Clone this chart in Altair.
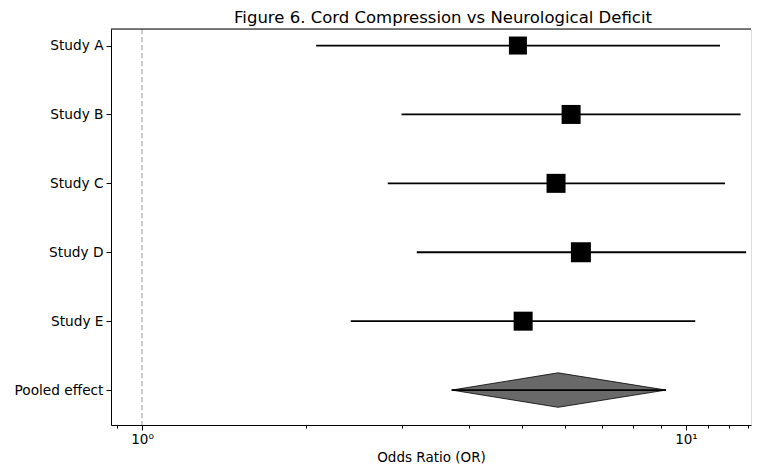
import altair as alt
import pandas as pd

# ---- data ----
studies = ["Study A", "Study B", "Study C", "Study D", "Study E"]
or_vals = [4.91, 6.15, 5.77, 6.41, 5.02]
ci_low = [2.09, 3.00, 2.83, 3.20, 2.42]
ci_high = [11.55, 12.6, 11.8, 12.9, 10.4]
marker_side = [18, 19, 19, 20, 19]

pooled_label = "Pooled effect"
pooled_or = 5.82
pooled_low = 3.71
pooled_high = 9.19

row_labels = [pooled_label] + studies[::-1]   # bottom -> top
minor_ticks = [0.9, 2, 3, 4, 5, 6, 7, 8, 9, 11, 12, 13]
major_ticks = [1, 10]

W, H = 640, 396
x_dom = [0.877, 13.17]
y_dom = [-0.507, 5.24]

ypos = [len(studies) - i for i in range(len(studies))]
df = pd.DataFrame({"study": studies, "or": or_vals, "lo": ci_low, "hi": ci_high,
                   "y": ypos, "sz": [s * s for s in marker_side]})
diamond = pd.DataFrame({"x": [pooled_low, pooled_or, pooled_high],
                        "yt": [0, 0.25, 0], "yb": [0, -0.25, 0]})
pooled = pd.DataFrame({"lo": [pooled_low], "hi": [pooled_high], "y": [0]})
ref = pd.DataFrame({"x": [1]})

label_expr = "[" + ",".join("'%s'" % s for s in row_labels) + "][datum.value]"
major_test = " || ".join("datum.value == %s" % v for v in major_ticks)

xscale = alt.Scale(type="log", domain=x_dom, nice=False, zero=False)
yscale = alt.Scale(domain=y_dom, nice=False, zero=False)

xaxis = alt.Axis(values=major_ticks + minor_ticks, grid=False,
                 labelExpr="datum.value == 1 ? '10⁰' : (datum.value == 10 ? '10¹' : '')",
                 tickSize={"condition": {"test": major_test, "value": 5}, "value": 3},
                 tickColor="black", domainColor="black", labelColor="black",
                 labelFontSize=13.5, labelFont="DejaVu Sans", labelPadding=2,
                 labelFlush=False, labelOverlap=False,
                 title="Odds Ratio (OR)", titleFont="DejaVu Sans", titleFontSize=13.5,
                 titleFontWeight="normal", titleColor="black", titlePadding=5)
yaxis = alt.Axis(values=list(range(len(row_labels))), labelExpr=label_expr, grid=False,
                 tickSize=5, tickColor="black", domainColor="black", labelColor="black",
                 labelFontSize=13.7, labelFont="DejaVu Sans", labelPadding=3,
                 title=None, minExtent=103, maxExtent=103)

vline = alt.Chart(ref).mark_rule(color="#999999", strokeDash=[5, 3], strokeWidth=1).encode(
    x=alt.X("x:Q", scale=xscale, axis=xaxis))

ci = alt.Chart(df).mark_rule(color="black", strokeWidth=1.8).encode(
    x=alt.X("lo:Q", scale=xscale), x2="hi:Q",
    y=alt.Y("y:Q", scale=yscale, axis=yaxis))

pts = alt.Chart(df).mark_point(shape="square", filled=True, color="black", opacity=1).encode(
    x=alt.X("or:Q", scale=xscale), y=alt.Y("y:Q", scale=yscale),
    size=alt.Size("sz:Q", scale=None, legend=None))

dia = alt.Chart(diamond).mark_area(color="#696969", stroke="black", strokeWidth=0.8,
                                   opacity=1).encode(
    x=alt.X("x:Q", scale=xscale), y=alt.Y("yt:Q", scale=yscale), y2="yb:Q")

pline = alt.Chart(pooled).mark_rule(color="black", strokeWidth=1.8).encode(
    x=alt.X("lo:Q", scale=xscale), x2="hi:Q", y=alt.Y("y:Q", scale=yscale))

top = alt.Chart(ref).mark_rule(color="black", strokeWidth=1).encode(
    x=alt.value(0), x2=alt.value(W), y=alt.value(0))

chart = alt.layer(vline, ci, dia, pline, pts, top).properties(
    width=W, height=H,
    padding={"top": 2, "left": 0, "right": 0, "bottom": 0},
    title=alt.TitleParams("Figure 6. Cord Compression vs Neurological Deficit",
                          font="DejaVu Sans", fontSize=16.5, fontWeight="normal",
                          color="black", offset=2, anchor="middle", dx=12),
).configure_view(stroke=None).configure(background="white")

chart.save("out.html", embed_options={"renderer": "svg", "actions": False})
